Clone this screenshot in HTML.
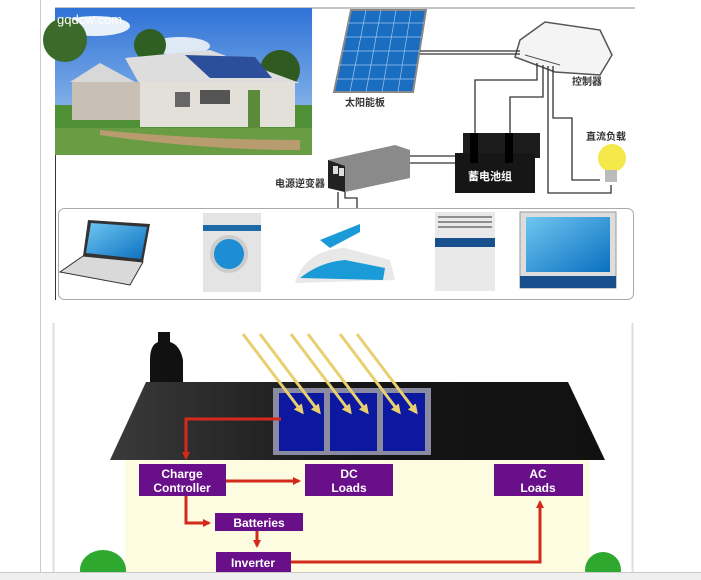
<!DOCTYPE html>
<html><head><meta charset="utf-8"><style>
html,body{margin:0;padding:0;background:#fff;width:701px;height:580px;overflow:hidden}
svg{display:block}
text{font-family:"Liberation Sans","Noto Sans CJK SC",sans-serif}
</style></head><body>
<svg width="701" height="580" viewBox="0 0 701 580" xmlns="http://www.w3.org/2000/svg">
<defs>
<linearGradient id="sky" x1="0" y1="0" x2="0" y2="1"><stop offset="0" stop-color="#2f72d6"/><stop offset="1" stop-color="#a9cdf0"/></linearGradient>
<linearGradient id="scr" x1="0" y1="0" x2="1" y2="1"><stop offset="0" stop-color="#6fc6f0"/><stop offset="1" stop-color="#0a6fc0"/></linearGradient>
<linearGradient id="roof" x1="0" y1="0" x2="1" y2="0"><stop offset="0" stop-color="#3a3a3a"/><stop offset="0.5" stop-color="#151515"/><stop offset="1" stop-color="#111"/></linearGradient>
<marker id="ar" markerWidth="8" markerHeight="8" refX="6" refY="4" orient="auto" markerUnits="userSpaceOnUse"><path d="M0,0 L8,4 L0,8 Z" fill="#d42a1c"/></marker>
<marker id="ya" markerWidth="10" markerHeight="10" refX="7" refY="5" orient="auto" markerUnits="userSpaceOnUse"><path d="M0,0 L10,5 L0,10 Z" fill="#e8d070"/></marker>
</defs>
<line x1="40.5" y1="0" x2="40.5" y2="580" stroke="#ccc"/>
<!-- TOP -->
<line x1="55" y1="8" x2="635" y2="8" stroke="#888"/>
<line x1="55.5" y1="8" x2="55.5" y2="300" stroke="#333"/>
<rect x="55" y="8" width="257" height="147" fill="url(#sky)"/>
<ellipse cx="95" cy="26" rx="35" ry="10" fill="#e8f0fa"/>
<ellipse cx="180" cy="46" rx="30" ry="9" fill="#dfe9f6"/>
<circle cx="150" cy="45" r="16" fill="#2f5f22"/>
<rect x="55" y="105" width="257" height="50" fill="#4f8f35"/>
<circle cx="280" cy="70" r="20" fill="#2f5a22"/>
<circle cx="65" cy="40" r="22" fill="#3b6a2a"/>
<polygon points="125,58 210,50 300,83 140,85" fill="#ddd"/>
<polygon points="185,55 255,57 272,78 210,78" fill="#2b4f9a"/>
<rect x="140" y="82" width="155" height="45" fill="#e3e0da"/>
<polygon points="70,82 100,63 135,82" fill="#d8d8d8"/>
<rect x="72" y="82" width="68" height="38" fill="#c8c0b4"/>
<rect x="200" y="90" width="30" height="14" fill="#555"/>
<rect x="175" y="92" width="15" height="15" fill="#666"/>
<rect x="248" y="90" width="12" height="40" fill="#5a8a3a"/>
<rect x="55" y="128" width="257" height="27" fill="#6a9c44"/>
<path d="M100,130 Q200,140 300,140 L300,150 Q200,150 100,135Z" fill="#b89c70"/>
<text x="57" y="24" font-size="13" fill="#fff" font-family="Liberation Serif,serif">gqdcw.com</text>
<!-- solar panel -->
<polygon points="351,10 426,10 413,92 334,92" fill="#1b6dc0" stroke="#888" stroke-width="2"/>
<g stroke="#9cc8ef" stroke-width="0.7">
<line x1="348" y1="23" x2="424" y2="23"/><line x1="345" y1="37" x2="422" y2="37"/><line x1="342" y1="51" x2="420" y2="51"/><line x1="339" y1="65" x2="417" y2="65"/><line x1="337" y1="79" x2="415" y2="79"/>
<line x1="366" y1="10" x2="350" y2="92"/><line x1="381" y1="10" x2="366" y2="92"/><line x1="396" y1="10" x2="382" y2="92"/><line x1="411" y1="10" x2="398" y2="92"/>
</g>
<text x="345" y="106" font-size="10" fill="#333" font-weight="bold">太阳能板</text>
<!-- controller -->
<polygon points="520,40 545,22 600,30 612,55 600,75 555,72 515,57" fill="#f4f4f4" stroke="#555" stroke-width="1.5"/>
<line x1="525" y1="55" x2="560" y2="65" stroke="#555"/>
<text x="572" y="85" font-size="10" fill="#333" font-weight="bold">控制器</text>
<!-- wires -->
<g fill="none" stroke="#333" stroke-width="1.3">
<path d="M420,51 H520"/><path d="M420,54 H520"/>
<path d="M537,63 V80 H475 V135"/><path d="M543,65 V97 H510 V135"/>
<path d="M548,66 V193 H611 V185"/><path d="M553,66 V118 H572 V180 H600"/>
<path d="M410,156 H458"/><path d="M410,163 H458"/>
<path d="M338,192 V208"/><path d="M345,192 V198 H357 V208"/>
</g>
<!-- battery -->
<rect x="463" y="133" width="77" height="25" fill="#1c1c1c"/>
<rect x="455" y="153" width="80" height="40" fill="#161616"/>
<rect x="470" y="133" width="8" height="30" fill="#000"/>
<rect x="505" y="133" width="8" height="30" fill="#000"/>
<text x="468" y="180" font-size="11" fill="#fff" font-weight="bold">蓄电池组</text>
<!-- inverter -->
<polygon points="328,160 395,145 410,150 410,178 345,192 328,188" fill="#8a8a8a"/>
<polygon points="328,160 345,166 345,192 328,188" fill="#222"/>
<rect x="333" y="166" width="5" height="8" fill="#ddd"/><rect x="339" y="168" width="5" height="8" fill="#ddd"/>
<text x="275" y="187" font-size="10" fill="#333" font-weight="bold">电源逆变器</text>
<!-- bulb -->
<text x="586" y="140" font-size="10" fill="#333" font-weight="bold">直流负载</text>
<circle cx="612" cy="158" r="14" fill="#f4e84a"/>
<rect x="605" y="170" width="12" height="12" fill="#bbb"/>
<!-- appliances box -->
<rect x="58.5" y="208.5" width="575" height="91" rx="6" fill="#fff" stroke="#aaa"/>
<polygon points="88,220 150,224 143,262 83,256" fill="#333"/>
<polygon points="91,223 147,227 141,259 86,253" fill="url(#scr)"/>
<polygon points="83,256 143,262 130,285 60,272" fill="#d9d9d9" stroke="#333"/>
<rect x="203" y="213" width="58" height="79" fill="#e4e4e4"/>
<rect x="203" y="225" width="58" height="6" fill="#1d6aa8"/>
<circle cx="229" cy="254" r="17" fill="#1d8ed6" stroke="#ccc" stroke-width="4"/>
<path d="M295,283 Q305,250 345,248 L390,260 L395,280 Z" fill="#e8e8e8"/>
<path d="M300,278 Q320,262 345,260 L385,268 L383,280 Z" fill="#1a9ad6"/>
<path d="M320,240 L360,224 L360,232 L330,248Z" fill="#1a9ad6"/>
<rect x="435" y="212" width="60" height="79" fill="#e9e9e9"/>
<g stroke="#333"><line x1="438" y1="217" x2="492" y2="217"/><line x1="438" y1="222" x2="492" y2="222"/><line x1="438" y1="227" x2="492" y2="227"/></g>
<rect x="435" y="238" width="60" height="9" fill="#17508c"/>
<rect x="520" y="212" width="96" height="76" fill="#ddd" stroke="#999"/>
<rect x="526" y="217" width="84" height="55" fill="url(#scr)"/>
<rect x="520" y="276" width="96" height="12" fill="#17508c"/>
<!-- BOTTOM -->
<line x1="53.5" y1="323" x2="53.5" y2="572" stroke="#ddd" stroke-width="2"/>
<line x1="632.5" y1="323" x2="632.5" y2="572" stroke="#ddd" stroke-width="2"/>
<rect x="125" y="460" width="465" height="112" fill="#fdfce0"/>
<path d="M150,383 V360 Q150,345 158,342 V332 H170 V342 Q180,345 183,360 V383Z" fill="#111"/>
<polygon points="146,382 568,382 605,460 110,460" fill="url(#roof)"/>
<rect x="273" y="388" width="158" height="67" fill="#8a8aa0"/>
<rect x="279" y="393" width="45" height="58" fill="#0c18a0"/>
<rect x="330" y="393" width="47" height="58" fill="#0c18a0"/>
<rect x="383" y="393" width="42" height="58" fill="#0c18a0"/>
<g stroke="#e8d070" stroke-width="3" marker-end="url(#ya)">
<line x1="243" y1="334" x2="302" y2="412"/><line x1="260" y1="334" x2="319" y2="412"/>
<line x1="291" y1="334" x2="350" y2="412"/><line x1="308" y1="334" x2="367" y2="412"/>
<line x1="340" y1="334" x2="399" y2="412"/><line x1="357" y1="334" x2="416" y2="412"/>
</g>
<g fill="none" stroke="#d42a1c" stroke-width="3">
<path d="M281,419 H186 V458" marker-end="url(#ar)"/>
<path d="M226,481 H299" marker-end="url(#ar)"/>
<path d="M186,496 V523 H209" marker-end="url(#ar)"/>
<path d="M257,531 V546" marker-end="url(#ar)"/>
<path d="M291,562 H540 V502" marker-end="url(#ar)"/>
</g>
<g fill="#6a0f8a">
<rect x="139" y="464" width="87" height="32"/>
<rect x="305" y="464" width="88" height="32"/>
<rect x="494" y="464" width="89" height="32"/>
<rect x="215" y="513" width="88" height="18"/>
<rect x="216" y="552" width="75" height="20"/>
</g>
<g fill="#fff" font-weight="bold" font-size="12" text-anchor="middle">
<text x="182" y="478">Charge</text><text x="182" y="492">Controller</text>
<text x="349" y="478">DC</text><text x="349" y="492">Loads</text>
<text x="538" y="478">AC</text><text x="538" y="492">Loads</text>
<text x="259" y="527">Batteries</text>
<text x="253" y="567">Inverter</text>
</g>
<ellipse cx="103" cy="570" rx="23" ry="20" fill="#2ea82e"/>
<ellipse cx="603" cy="570" rx="18" ry="18" fill="#2ea82e"/>
<rect x="0" y="572" width="701" height="8" fill="#efefef"/>
<line x1="0" y1="572.5" x2="701" y2="572.5" stroke="#ccc"/>
</svg>
</body></html>
